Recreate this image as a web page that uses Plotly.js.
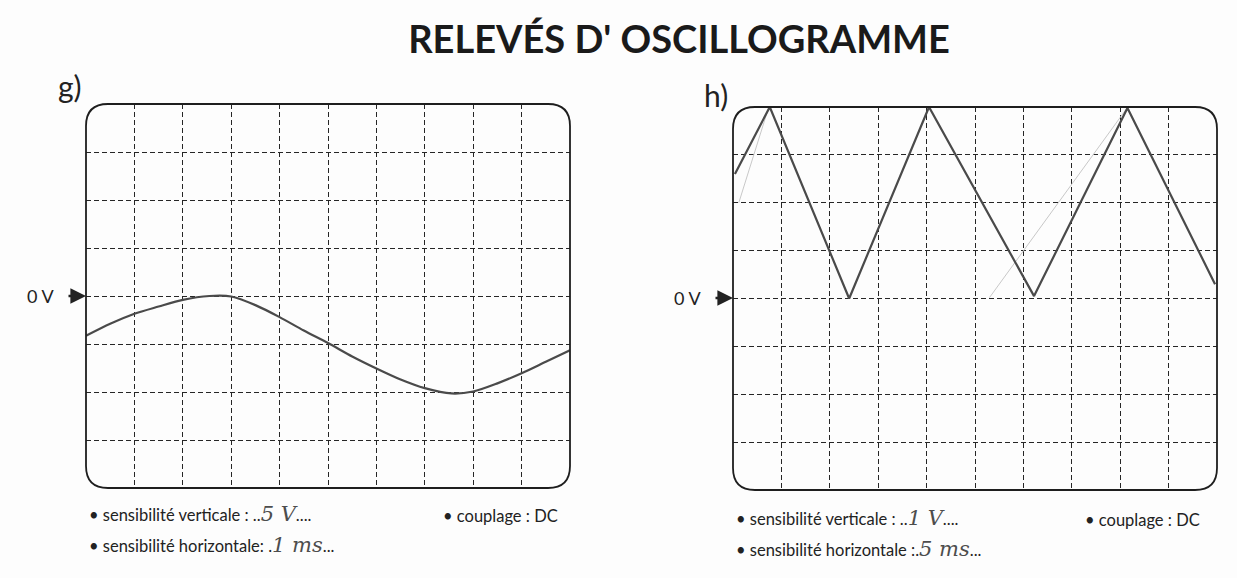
<!DOCTYPE html>
<html><head><meta charset="utf-8">
<script src="https://cdn.plot.ly/plotly-3.0.1.min.js"></script>
<style>html,body{margin:0;padding:0;background:#fff}#chart{width:1237px;height:578px}</style>
</head><body><div id="chart"></div>
<script>
// ---- data (in screen divisions: x 0..10, y -4..4, 0 V at centre) ----
const gX = [0,0.5,1,1.5,2,2.55,3,3.5,4,4.5,5,5.5,6,6.5,7,7.55,8,8.5,9,9.5,10];
const gY = [-0.83,-0.58,-0.37,-0.22,-0.08,0,-0.01,-0.19,-0.44,-0.72,-0.98,-1.26,-1.51,-1.74,-1.92,-2.03,-1.99,-1.82,-1.61,-1.37,-1.13];
const hX = [0.04,0.76,2.4,4.05,6.22,8.15,9.96];
const hY = [2.6,4.0,0.0,4.0,0.05,3.98,0.3];
const hPencilX = [0.12,0.73,null,5.3,8.3];
const hPencilY = [2.0,3.97,null,0.02,4.2];
const xTicks = [1,2,3,4,5,6,7,8,9];
const yTicks = [-3,-2,-1,0,1,2,3];
const titleText = "RELEVÉS D' OSCILLOGRAMME";
const panelLabels = ["g)","h)"];
const zeroLabel = "0 V";
const vertPrefix = ["• sensibilité verticale : ", "• sensibilité verticale : "];
const horPrefix = ["• sensibilité horizontale: ", "• sensibilité horizontale :"];
const couplage = "• couplage : DC";
const vertValues = ["5 V","1 V"];
const horValues = ["1 ms","5 ms"];

const W = 1237, H = 578;
const px = v => v / W, py = v => 1 - v / H;
const boxes = [{l:86,r:570,t:104,b:488},{l:733,r:1217,t:107,b:490}];
const font = "Lato, 'Open Sans', sans-serif";
const ink = "#4a4a4a";

const traces = [
  {x:gX, y:gY, xaxis:'x', yaxis:'y', mode:'lines', line:{color:ink, width:2.2, shape:'spline', smoothing:0.8}, hoverinfo:'skip'},
  {x:hPencilX, y:hPencilY, xaxis:'x2', yaxis:'y2', mode:'lines', line:{color:'#c8c8c8', width:1}, hoverinfo:'skip'},
  {x:hX, y:hY, xaxis:'x2', yaxis:'y2', mode:'lines', line:{color:ink, width:2.2}, hoverinfo:'skip'}
];

function axX(b){return {domain:[px(b.l),px(b.r)], range:[0,10], tickvals:xTicks, showticklabels:false, ticks:'', showgrid:true, gridcolor:'#262626', gridwidth:1, griddash:'5px,3px', zeroline:false, showline:false, fixedrange:true};}
function axY(b){return {domain:[py(b.b),py(b.t)], range:[-4,4], tickvals:yTicks, showticklabels:false, ticks:'', showgrid:true, gridcolor:'#262626', gridwidth:1, griddash:'5px,3px', zeroline:false, showline:false, fixedrange:true};}

function roundRect(b){
  const r = 22;
  const L=px(b.l), R=px(b.r), T=py(b.t), B=py(b.b), rx=r/W, ry=r/H;
  return `M ${L+rx},${T} L ${R-rx},${T} Q ${R},${T} ${R},${T-ry} L ${R},${B+ry} Q ${R},${B} ${R-rx},${B} L ${L+rx},${B} Q ${L},${B} ${L},${B+ry} L ${L},${T-ry} Q ${L},${T} ${L+rx},${T} Z`;
}
const shapes = boxes.map(b => ({type:'path', xref:'paper', yref:'paper', path:roundRect(b), line:{color:'#1e1e1e', width:1.8}, layer:'above'}));

const annotations = [];
const txt = (text,x,y,size,opts={}) => annotations.push(Object.assign({text, xref:'paper', yref:'paper', x:px(x), y:py(y), showarrow:false, xanchor:'left', yanchor:'middle', font:{family:font, size, color:'#222'}}, opts));
const hand = v => `<span style="font-family:'DejaVu Serif',serif;font-size:21px;font-style:italic;fill:#4d4d4d">${v}</span>`;

txt(panelLabels[0], 56, 86, 30);
txt(panelLabels[1], 702, 95, 30);
const zeroY = [296, 298];
boxes.forEach((b,i)=>{
  txt(zeroLabel, b.l - 61, zeroY[i], 18);
  annotations.push({text:'', xref:'paper', yref:'paper', x:px(b.l), y:py(zeroY[i]), ax:-19, ay:0, showarrow:true, arrowhead:2, arrowsize:1.3, arrowwidth:2.4, arrowcolor:'#222'});
});
const rowY = [[514,545],[518,549]];
const coupX = [441, 1083];
boxes.forEach((b,i)=>{
  txt(vertPrefix[i] + '..' + hand(vertValues[i]) + '....', b.l + 1, rowY[i][0], 16.5);
  txt(horPrefix[i] + '.' + hand(horValues[i]) + '...', b.l + 1, rowY[i][1], 16.5);
  txt(couplage, coupX[i], rowY[i][0] + 2, 16.5);
});

const layout = {
  width:W, height:H, margin:{l:0,r:0,t:0,b:0},
  paper_bgcolor:'#fdfdfd', plot_bgcolor:'rgba(0,0,0,0)', showlegend:false,
  title:{text:titleText, x:px(679), xanchor:'center', y:py(40), yanchor:'middle', font:{family:font, size:38, weight:'bold', color:'#1a1a1a'}},
  xaxis:Object.assign(axX(boxes[0]),{anchor:'y'}), yaxis:Object.assign(axY(boxes[0]),{anchor:'x'}),
  xaxis2:Object.assign(axX(boxes[1]),{anchor:'y2'}), yaxis2:Object.assign(axY(boxes[1]),{anchor:'x2'}),
  shapes, annotations
};
Plotly.newPlot('chart', traces, layout, {displayModeBar:false, staticPlot:true});
</script></body></html>
